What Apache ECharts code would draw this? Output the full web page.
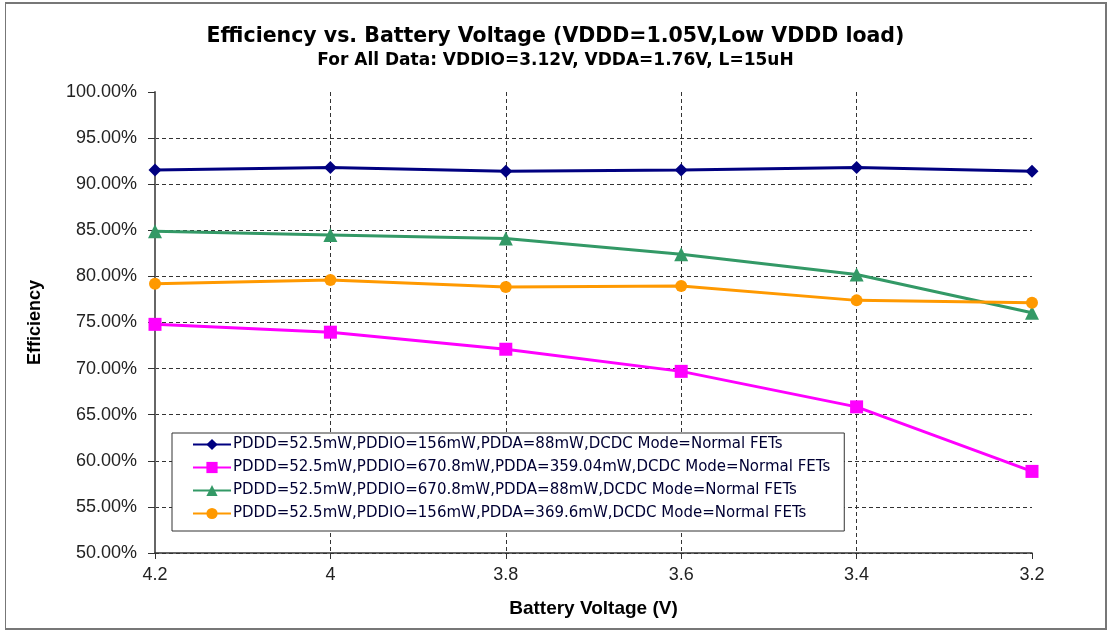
<!DOCTYPE html>
<html>
<head>
<meta charset="utf-8">
<script src="https://cdn.jsdelivr.net/npm/echarts@6/dist/echarts.min.js"></script>
<style>
html,body{margin:0;padding:0;background:#fff;}
#frame{position:absolute;left:5px;top:2px;width:1102px;height:628px;border:2px solid #777;border-left:1px solid #777;box-sizing:border-box;}
#c{position:absolute;left:0;top:0;width:1111px;height:634px;}
</style>
</head>
<body>
<div id="frame"></div>
<div id="c"></div>
<script>
const voltages = [4.2, 4.0, 3.8, 3.6, 3.4, 3.2];
const seriesNames = [
  'PDDD=52.5mW,PDDIO=156mW,PDDA=88mW,DCDC Mode=Normal FETs',
  'PDDD=52.5mW,PDDIO=670.8mW,PDDA=359.04mW,DCDC Mode=Normal FETs',
  'PDDD=52.5mW,PDDIO=670.8mW,PDDA=88mW,DCDC Mode=Normal FETs',
  'PDDD=52.5mW,PDDIO=156mW,PDDA=369.6mW,DCDC Mode=Normal FETs'
];
const effBlue = [91.55, 91.8, 91.4, 91.55, 91.8, 91.4];
const effMagenta = [74.8, 73.95, 72.1, 69.7, 65.85, 58.85];
const effGreen = [84.9, 84.5, 84.1, 82.4, 80.2, 76.05];
const effOrange = [79.2, 79.6, 78.85, 78.95, 77.4, 77.15];
const xTickLabels = {'4.2':'4.2','4':'4','3.8':'3.8','3.6':'3.6','3.4':'3.4','3.2':'3.2'};

const pair = arr => voltages.map((v, i) => [v, arr[i]]);
const chart = echarts.init(document.getElementById('c'));
const font = 'Liberation Sans, Arial, sans-serif';
const wide = 'DejaVu Sans, sans-serif';
function mk(name, data, color, symbol, size) {
  return {
    name, type: 'line', data: pair(data), symbol, symbolSize: size,
    lineStyle: {color, width: 3}, itemStyle: {color}, animation: false
  };
}
chart.setOption({
  animation: false,
  title: [
    {text: 'Efficiency vs. Battery Voltage (VDDD=1.05V,Low VDDD load)', left: 'center', top: 21,
     textStyle: {fontFamily: wide, fontSize: 20.5, fontWeight: 'bold', color: '#000'}},
    {text: 'For All Data: VDDIO=3.12V, VDDA=1.76V, L=15uH', left: 'center', top: 47,
     textStyle: {fontFamily: wide, fontSize: 17, fontWeight: 'bold', color: '#000'}}
  ],
  grid: {left: 155, right: 79, top: 92, bottom: 81},
  legend: {
    orient: 'vertical', left: 172, top: 433,
    backgroundColor: '#fff', borderColor: '#333', borderWidth: 1,
    padding: [4, 14, 10, 20], itemGap: 8, itemWidth: 38, itemHeight: 14,
    textStyle: {fontFamily: wide, fontSize: 15, color: '#000033', padding: [0, 0, 0, -3]},
    data: seriesNames
  },
  xAxis: {
    type: 'value', inverse: true, min: 3.2, max: 4.2, interval: 0.2,
    name: 'Battery Voltage (V)', nameLocation: 'middle', nameGap: 46,
    nameTextStyle: {fontFamily: font, fontSize: 19, fontWeight: 'bold', color: '#000'},
    axisLine: {lineStyle: {color: '#333', width: 1.5}},
    axisTick: {show: true, length: 6, lineStyle: {color: '#333'}},
    axisLabel: {fontFamily: font, fontSize: 18, color: '#222', margin: 13,
      formatter: v => xTickLabels[String(Math.round(v * 10) / 10)] || ''},
    splitLine: {show: true, showMinLine: false, lineStyle: {color: '#333', type: [4, 3], width: 1}}
  },
  yAxis: {
    type: 'value', min: 50, max: 100, interval: 5,
    name: 'Efficiency', nameLocation: 'middle', nameGap: 111, nameRotate: 90,
    nameTextStyle: {fontFamily: font, fontSize: 18, fontWeight: 'bold', color: '#000'},
    axisLine: {show: true, lineStyle: {color: '#666', width: 2}},
    axisTick: {show: true, length: 7, lineStyle: {color: '#333'}},
    axisLabel: {fontFamily: font, fontSize: 18, color: '#222', margin: 18,
      formatter: v => v.toFixed(2) + '%'},
    splitLine: {show: true, showMaxLine: false, lineStyle: {color: '#333', type: [4, 3], width: 1}}
  },
  series: [
    mk(seriesNames[0], effBlue, '#000080', 'diamond', 13),
    mk(seriesNames[1], effMagenta, '#ff00ff', 'rect', 13),
    mk(seriesNames[2], effGreen, '#339966', 'triangle', 14),
    mk(seriesNames[3], effOrange, '#ff9900', 'circle', 12)
  ]
});
</script>
</body>
</html>
